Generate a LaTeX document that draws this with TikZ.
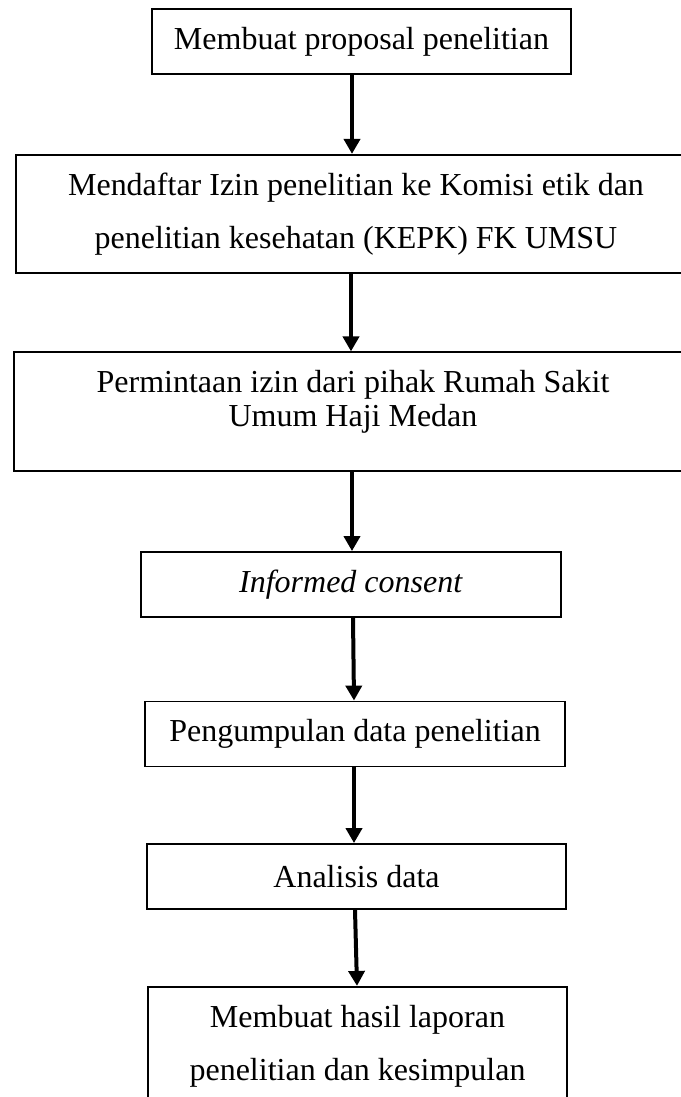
\documentclass[tikz,border=0pt]{standalone}
\usepackage{fontspec}
\setmainfont{Liberation Serif}
\usetikzlibrary{arrows.meta}

\begin{document}
\begin{tikzpicture}[x=0.375pt, y=-0.375pt, font=\fontsize{12}{13.1}\selectfont,
  stepbox/.style={draw, line width=0.7pt, minimum width=157.3pt, minimum height=24.4pt, inner sep=0pt},
  widebox/.style={draw, line width=0.7pt, align=center, inner sep=0pt, minimum height=44.4pt},
  flow/.style={line width=1.5pt, -{Triangle[length=5.6pt, width=6pt]}}]
  \useasboundingbox (0,0) rectangle (681,1097);
  \node[stepbox] (proposal) at (361.5,41.5) {Membuat proposal penelitian};
  \node[widebox, minimum width=255pt, font=\fontsize{12}{20}\selectfont] (izin) at (356,214)
    {Mendaftar Izin penelitian ke Komisi etik dan\\penelitian kesehatan (KEPK) FK UMSU};
  \node[widebox, minimum width=254.25pt, text height=14.2pt, text depth=2.6pt] (rsuhaji) at (353,411.5)
    {Permintaan izin dari pihak Rumah Sakit\\Umum Haji Medan};
  \node[stepbox] (consent) at (351,584.5) {\textit{Informed consent}};
  \node[stepbox] (pengumpulan) at (355,734) {Pengumpulan data penelitian};
  \node[stepbox] (analisis) at (356.5,876.5) {Analisis data};
  \node[widebox, minimum width=157.1pt, font=\fontsize{12}{20}\selectfont] (laporan) at (357.5,1046)
    {Membuat hasil laporan\\penelitian dan kesimpulan};
  \draw[flow] (352,0 |- proposal.south) -- (352,0 |- izin.north);
  \draw[flow] (351,0 |- izin.south) -- (351,0 |- rsuhaji.north);
  \draw[flow] (352,0 |- rsuhaji.south) -- (352,0 |- consent.north);
  \draw[flow] (353,0 |- consent.south) -- (354,0 |- pengumpulan.north);
  \draw[flow] (354,0 |- pengumpulan.south) -- (354,0 |- analisis.north);
  \draw[flow] (355,0 |- analisis.south) -- (357,0 |- laporan.north);
\end{tikzpicture}
\end{document}
